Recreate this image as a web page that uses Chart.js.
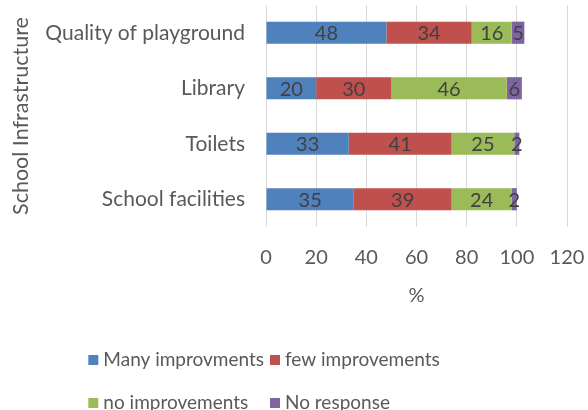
<!DOCTYPE html>
<html>
<head>
<meta charset="utf-8">
<script src="https://cdn.jsdelivr.net/npm/chart.js@4.4.0/dist/chart.umd.min.js"></script>
<style>
  html, body { margin: 0; padding: 0; background: #fff; }
</style>
</head>
<body>
<canvas id="infraChart" width="588" height="410"></canvas>
<script>
const categories = ['Quality of playground', 'Library', 'Toilets', 'School facilities'];
const manyImprovements = [48, 20, 33, 35];
const fewImprovements = [34, 30, 41, 39];
const noImprovements = [16, 46, 25, 24];
const noResponse = [5, 6, 2, 2];
const seriesNames = ['Many improvments', 'few improvements', 'no improvements', 'No response'];
const seriesColors = ['#4F81BD', '#C0504D', '#9BBB59', '#8064A2'];
const xMin = 0, xMax = 120, xStep = 20;

const FONT = 'Lato';
const TEXT_GREY = '#595959';

// numbers written in the middle of every bar segment
const segmentLabels = {
    id: 'segmentLabels',
    afterDatasetsDraw(chart) {
        const ctx = chart.ctx;
        ctx.save();
        ctx.font = '20px ' + FONT;
        ctx.fillStyle = '#404040';
        ctx.textAlign = 'center';
        ctx.textBaseline = 'middle';
        chart.data.datasets.forEach((ds, i) => {
            chart.getDatasetMeta(i).data.forEach((bar, j) => {
                ctx.fillText(ds.data[j], (bar.x + bar.base) / 2, bar.y + 1);
            });
        });
        ctx.restore();
    }
};

// two-row legend under the axis, laid out as a small grid
const gridLegend = {
    id: 'gridLegend',
    afterDraw(chart) {
        const ctx = chart.ctx;
        const ds = chart.data.datasets;
        const rows = [[0, 1], [2, 3]];
        const rowY = [360, 403];
        const box = 10, gap = 5;
        ctx.save();
        ctx.font = '19px ' + FONT;
        ctx.textBaseline = 'middle';
        const itemW = i => box + gap + ctx.measureText(ds[i].label).width;
        const col2 = Math.max(itemW(0), itemW(2)) + 6;
        const blockW = col2 + Math.max(itemW(1), itemW(3));
        const left = 264 - blockW / 2;
        rows.forEach((row, r) => {
            row.forEach((idx, c) => {
                const x = left + (c === 0 ? 0 : col2);
                ctx.fillStyle = ds[idx].backgroundColor;
                ctx.fillRect(x, rowY[r] - box / 2, box, box);
                ctx.fillStyle = TEXT_GREY;
                ctx.fillText(ds[idx].label, x + box + gap, rowY[r]);
            });
        });
        ctx.restore();
    }
};

const values = [manyImprovements, fewImprovements, noImprovements, noResponse];

const ctx = document.getElementById('infraChart').getContext('2d');
const infraChart = new Chart(ctx, {
    type: 'bar',
    data: {
        labels: categories,
        datasets: values.map((v, i) => ({
            label: seriesNames[i],
            data: v,
            backgroundColor: seriesColors[i],
            borderWidth: 0,
            categoryPercentage: 1,
            barPercentage: 0.4
        }))
    },
    options: {
        indexAxis: 'y',
        responsive: false,
        animation: false,
        layout: { padding: { top: 5, right: 21, bottom: 98, left: 0 } },
        plugins: {
            legend: { display: false },
            tooltip: { enabled: false }
        },
        scales: {
            x: {
                stacked: true,
                min: xMin,
                max: xMax,
                ticks: { stepSize: xStep, color: TEXT_GREY, padding: 19, font: { family: FONT, size: 20 } },
                grid: { color: '#d9d9d9', drawTicks: false },
                border: { display: false },
                title: {
                    display: true,
                    text: '%',
                    color: TEXT_GREY,
                    font: { family: FONT, size: 20 },
                    padding: { top: 0, bottom: 4 }
                },
                afterFit(scale) {
                    scale.height = 85;
                    scale.paddingLeft = 0;
                    scale.paddingRight = 0;
                }
            },
            y: {
                stacked: true,
                ticks: { color: TEXT_GREY, padding: 21, font: { family: FONT, size: 21 } },
                grid: { display: false, drawTicks: false },
                border: { display: false },
                title: {
                    display: true,
                    text: 'School Infrastructure',
                    color: TEXT_GREY,
                    font: { family: FONT, size: 21.5 },
                    padding: { top: 8, bottom: 0 }
                },
                afterFit(scale) {
                    scale.width = 266;
                    scale.paddingTop = 0;
                    scale.paddingBottom = 0;
                }
            }
        }
    },
    plugins: [segmentLabels, gridLegend]
});
</script>
</body>
</html>
